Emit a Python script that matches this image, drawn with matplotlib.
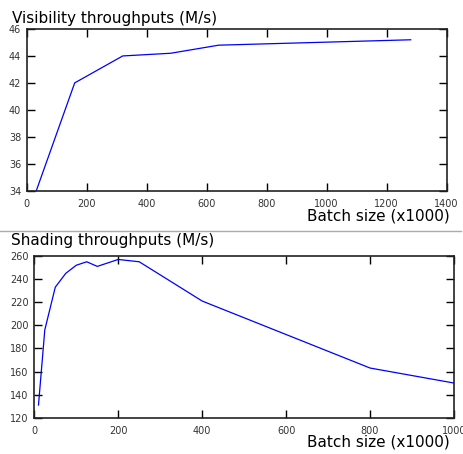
import matplotlib
matplotlib.use("Agg")
import matplotlib.pyplot as plt
from matplotlib.lines import Line2D

# visibility throughput vs batch size
vis_batch = [32, 160, 320, 480, 640, 800, 960, 1120, 1280]
vis_tput = [34.0, 42.0, 44.0, 44.2, 44.8, 44.9, 45.0, 45.1, 45.2]

# shading throughput vs batch size
shd_batch = [10, 25, 50, 75, 100, 125, 150, 200, 250, 400, 800, 1000]
shd_tput = [131, 196, 233, 245, 252, 255, 251, 257, 255, 221, 163, 150]

W, H = 464, 454
fig = plt.figure(figsize=(W / 100, H / 100), dpi=100)


def px_axes(l, t, r, b):
    return fig.add_axes([l / W, 1 - b / H, (r - l) / W, (b - t) / H])


def style(ax):
    ax.tick_params(direction="in", length=6, width=1, top=True, right=True,
                   labelsize=7, labelcolor="#333333")
    ax.tick_params(axis="x", pad=6)
    ax.tick_params(axis="y", pad=4)
    for s in ax.spines.values():
        s.set_linewidth(1.2)
        s.set_color("#222222")


ax1 = px_axes(26.7, 29, 446.7, 190.7)
ax1.plot(vis_batch, vis_tput, color="#0000ff", lw=0.9)
ax1.set_xlim(0, 1400)
ax1.set_ylim(34, 46)
ax1.set_xticks(range(0, 1401, 200))
ax1.set_yticks(range(34, 47, 2))
style(ax1)
fig.text(12.5 / W, 1 - 18 / H, "Visibility throughputs (M/s)", fontsize=11,
         va="center", ha="left")
fig.text(450 / W, 1 - 216 / H, "Batch size (x1000)", fontsize=11,
         va="center", ha="right")

ax2 = px_axes(34.3, 256, 454, 417.7)
ax2.plot(shd_batch, shd_tput, color="#0000ff", lw=0.9)
ax2.set_xlim(0, 1000)
ax2.set_ylim(120, 260)
ax2.set_xticks(range(0, 1001, 200))
ax2.set_yticks(range(120, 261, 20))
style(ax2)
fig.text(11.5 / W, 1 - 240.5 / H, "Shading throughputs (M/s)", fontsize=11,
         va="center", ha="left")
fig.text(450 / W, 1 - 442 / H, "Batch size (x1000)", fontsize=11,
         va="center", ha="right")

fig.add_artist(Line2D([0, 461 / W], [1 - 230.7 / H, 1 - 230.7 / H],
                      transform=fig.transFigure, color="#aaaaaa", lw=1))

fig.savefig("out.png", dpi=100)
